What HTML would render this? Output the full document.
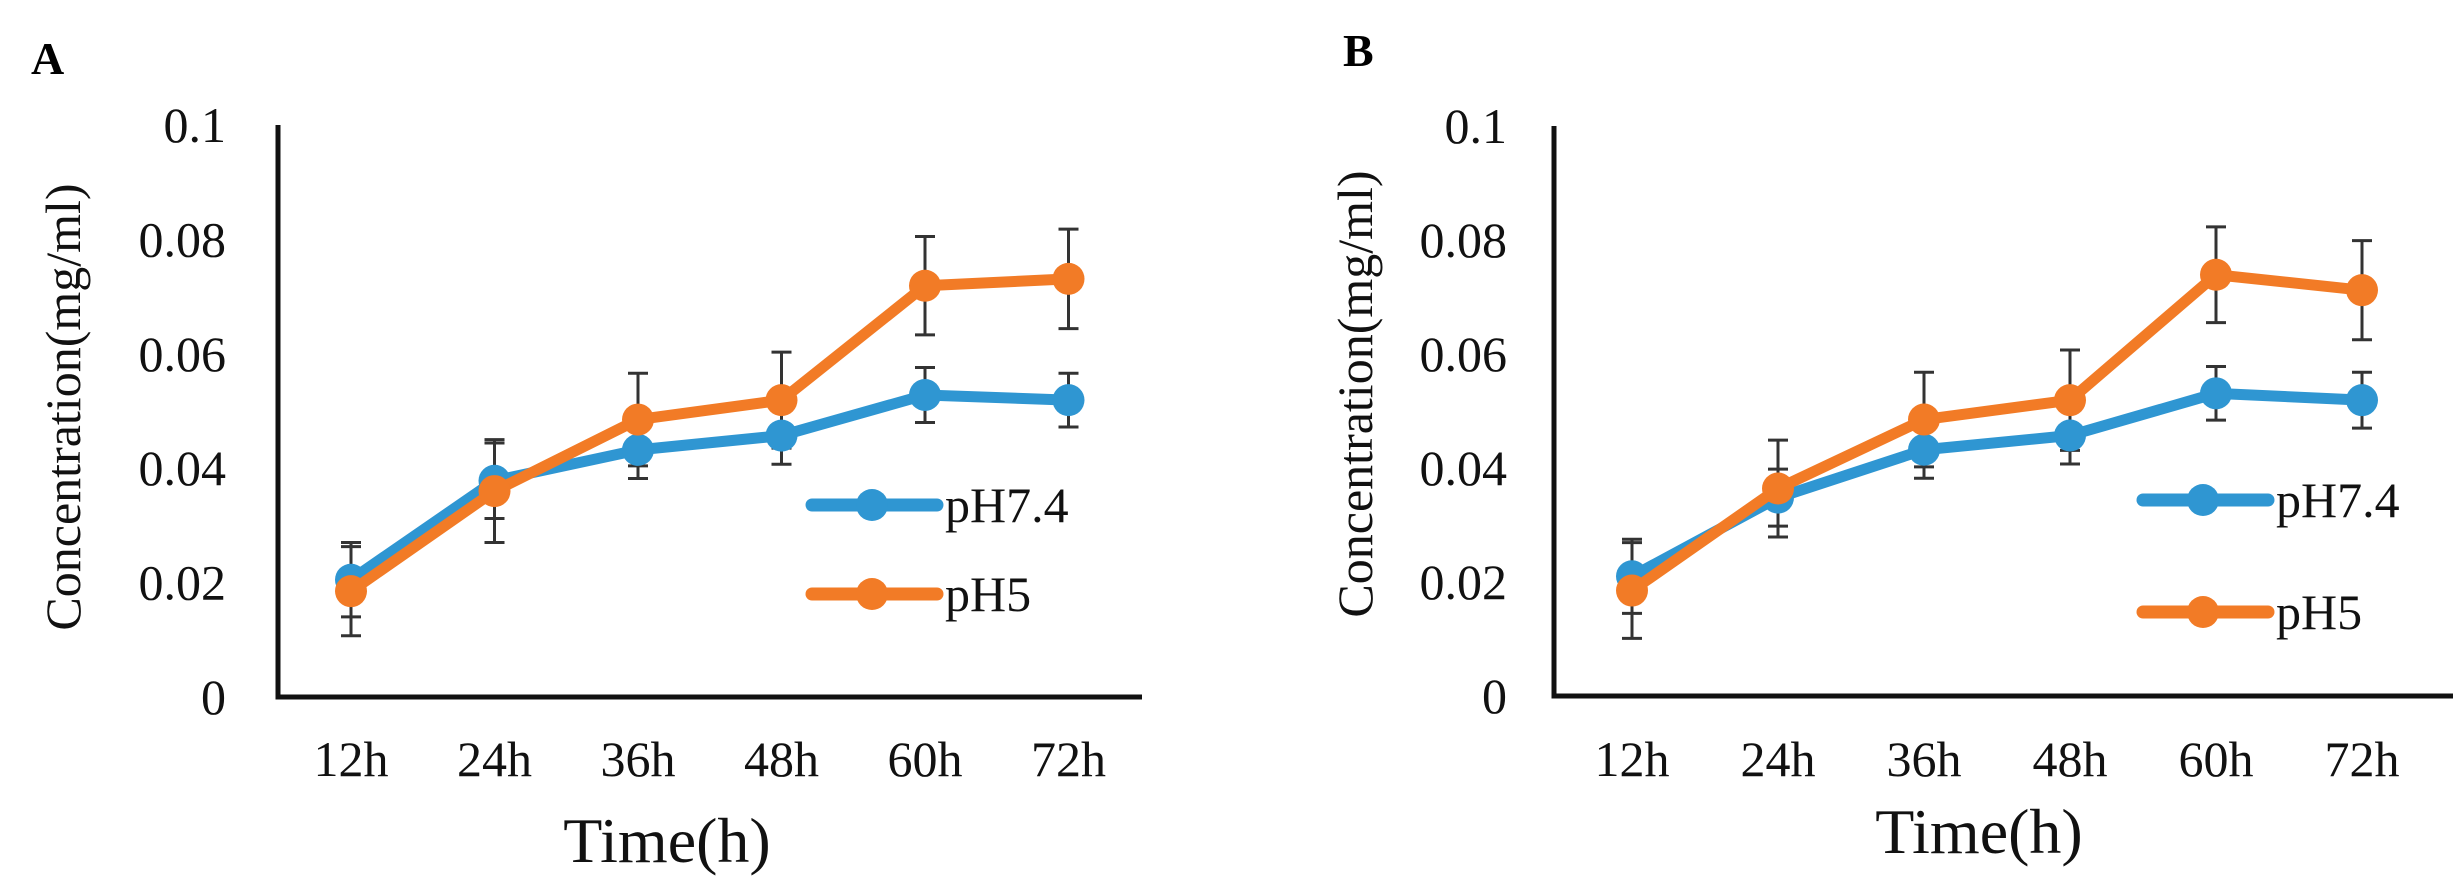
<!DOCTYPE html>
<html><head><meta charset="utf-8"><style>
html,body{margin:0;padding:0;background:#fff;}
svg{display:block;font-family:"Liberation Serif","Times New Roman",serif;}
</style></head><body>
<svg id="fig" width="2453" height="887" viewBox="0 0 2453 887" xmlns="http://www.w3.org/2000/svg"></svg>
<script>
const categories = ["12h","24h","36h","48h","60h","72h"];
const yTicks = [0,0.02,0.04,0.06,0.08,0.1];
const yTickLabels = ["0","0.02","0.04","0.06","0.08","0.1"];
const seriesNames = ["pH7.4","pH5"];
// Panel A
const aBlue = [0.0205,0.0378,0.0432,0.0457,0.0528,0.0519];
const aBlueErr = [0.0065,0.0066,0.005,0.005,0.0048,0.0047];
const aOrange = [0.0185,0.036,0.0485,0.0519,0.0719,0.0731];
const aOrangeErr = [0.0078,0.009,0.0081,0.0084,0.0086,0.0087];
// Panel B
const bBlue = [0.021,0.0348,0.0432,0.0457,0.0531,0.0519];
const bBlueErr = [0.0065,0.005,0.005,0.005,0.0047,0.0049];
const bOrange = [0.0185,0.0364,0.0485,0.0519,0.0739,0.0712];
const bOrangeErr = [0.0084,0.0085,0.0083,0.0088,0.0084,0.0087];

const NS="http://www.w3.org/2000/svg";
const svg=document.getElementById('fig');
const BLUE="#2f96d2", ORANGE="#f27b26";
function mk(tag,attrs,parent){const e=document.createElementNS(NS,tag);for(const k in attrs)e.setAttribute(k,attrs[k]);(parent||svg).appendChild(e);return e;}

function panel(cfg){
  const g=mk('g',{});
  
  
  const yScale=v=>cfg.y0-(v/0.1)*(cfg.y0-cfg.y1);
  const xScale=i=>cfg.x0+cfg.dx*i;
  const lab=mk('text',{x:cfg.labX,y:cfg.labY,'font-size':46,'font-weight':'bold',fill:'#000'},g);
  lab.textContent=cfg.id.toUpperCase();
  
  
  const ya=mk('line',{x1:cfg.ax,y1:cfg.y1,x2:cfg.ax,y2:cfg.y0+2.5,stroke:'#111','stroke-width':5},g);
  
  
  const xa=mk('line',{x1:cfg.ax-2.5,y1:cfg.y0,x2:cfg.axEnd,y2:cfg.y0,stroke:'#111','stroke-width':5},g);
  
  
  yTicks.forEach((t,i)=>{
    const tx=mk('text',{x:cfg.tickRight,y:yScale(t)+17,'font-size':50,'text-anchor':'end',fill:'#111'},g);
    tx.textContent=yTickLabels[i];
    
    
  });
  categories.forEach((c,i)=>{
    const tx=mk('text',{x:xScale(i),y:cfg.catY,'font-size':50,'text-anchor':'middle',fill:'#111'},g);
    tx.textContent=c;
    
    
  });
  const xt=mk('text',{x:cfg.xtX,y:cfg.xtY,'font-size':64,'text-anchor':'middle',fill:'#111'},g);
  xt.textContent='Time(h)';
  
  
  const yt=mk('text',{x:0,y:0,'font-size':50,'text-anchor':'middle',fill:'#111',transform:`translate(${cfg.ytX},${cfg.ytY}) rotate(-90)`},g);
  yt.textContent='Concentration(mg/ml)';
  
  
  const series=[[cfg.blue,cfg.blueErr,BLUE,'blue'],[cfg.orange,cfg.orangeErr,ORANGE,'orange']];
  series.forEach(([vals,errs,col,nm])=>{
    vals.forEach((v,i)=>{
      const x=xScale(i),t=yScale(v+errs[i]),b=yScale(v-errs[i]);
      const eb=mk('path',{d:`M${x},${t}V${b}M${x-10},${t}H${x+10}M${x-10},${b}H${x+10}`,stroke:'#333','stroke-width':3,fill:'none'},g);
      
      
    });
  });
  series.forEach(([vals,errs,col,nm])=>{
    const pts=vals.map((v,i)=>xScale(i)+','+yScale(v)).join(' ');
    const pl=mk('polyline',{points:pts,stroke:col,'stroke-width':11,fill:'none','stroke-linejoin':'round'},g);
    
    
    vals.forEach((v,i)=>{
      const c=mk('circle',{cx:xScale(i),cy:yScale(v),r:16,fill:col},g);
      
      
    });
  });
  [[BLUE,cfg.legY1],[ORANGE,cfg.legY2]].forEach(([col,ly],k)=>{
    const lg=mk('g',{},g);
    
    
    mk('line',{x1:cfg.legX,y1:ly,x2:cfg.legX+125,y2:ly,stroke:col,'stroke-width':13,'stroke-linecap':'round'},lg);
    mk('circle',{cx:cfg.legX+60,cy:ly,r:16,fill:col},lg);
    const t=mk('text',{x:cfg.legX+133,y:ly+17,'font-size':50,fill:'#111'},lg);
    t.textContent=seriesNames[k];
  });
}
panel({id:'a',labX:31,labY:74,ax:278,axEnd:1142,y0:697,y1:125,x0:351,dx:143.5,tickRight:226,catY:776,xtX:667,xtY:862,ytX:80,ytY:407,
  blue:aBlue,blueErr:aBlueErr,orange:aOrange,orangeErr:aOrangeErr,legX:812,legY1:505,legY2:594});
panel({id:'b',labX:1343,labY:66,ax:1554,axEnd:2453,y0:696,y1:126,x0:1632,dx:146,tickRight:1507,catY:776,xtX:1979,xtY:853,ytX:1372,ytY:394,
  blue:bBlue,blueErr:bBlueErr,orange:bOrange,orangeErr:bOrangeErr,legX:2143,legY1:500,legY2:612});
</script>
</body></html>
